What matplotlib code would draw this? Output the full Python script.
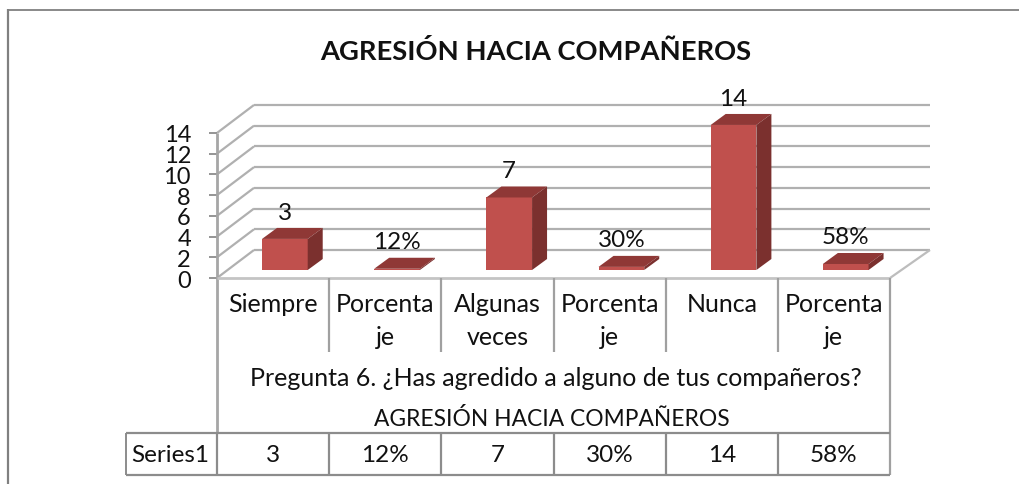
import matplotlib
matplotlib.use("Agg")
import matplotlib.pyplot as plt
from matplotlib.patches import Polygon

plt.rcParams['font.family'] = ['Lato', 'DejaVu Sans']

title = "AGRESIÓN HACIA COMPAÑEROS"
categories = ["Siempre", "Porcenta\nje", "Algunas\nveces", "Porcenta\nje", "Nunca", "Porcenta\nje"]
values = [3, 0.12, 7, 0.30, 14, 0.58]
data_labels = ["3", "12%", "7", "30%", "14", "58%"]
y_ticks = [0, 2, 4, 6, 8, 10, 12, 14]
group_label = "Pregunta 6. ¿Has agredido a alguno de tus compañeros?"
outer_label = "AGRESIÓN HACIA COMPAÑEROS"
series_name = "Series1"

W, H = 1020, 484
X0, CAT = 217.0, 112.17      # pixel of category 0, pixels per category
Y0, UNIT = 270.0, 10.36      # pixel of bar base, pixels per value unit
px = lambda p: (p - X0) / CAT
py = lambda p: (Y0 - p) / UNIT
GRID = "#b0b0b0"; LINE = "#8c8c8c"; FRAME = "#808080"
FRONT = "#c0504d"; TOP = "#8f3836"; SIDE = "#7b302e"; TXT = "#111111"
FS = 18.0
FS_LABEL = 17.5

fig = plt.figure(figsize=(W / 100, H / 100), dpi=100, facecolor="white")
ax = fig.add_axes([0, 0, 1, 1])
ax.set_xlim(px(0), px(W)); ax.set_ylim(py(H), py(0)); ax.axis("off")

def seg(x1, y1, x2, y2, c=LINE, lw=1.6, z=1):
    ax.plot([x1, x2], [y1, y2], color=c, lw=lw, solid_capstyle="butt", zorder=z)

# outer frame
seg(px(8), py(9.5), px(W), py(9.5), FRAME, 1.3)
seg(px(8), py(9), px(8), py(H), FRAME, 1.6)

ax.text(px(536), py(52), title, ha="center", va="center", fontsize=19.7, fontweight="bold", color=TXT)

# 3D frame geometry
n = len(categories)
ax_base = py(278)            # front floor level
depth_x, depth_y = 37 / CAT, 28 / UNIT
for t in y_ticks:
    yf = ax_base + t
    seg(0, yf, depth_x, yf + depth_y, GRID)
    seg(depth_x, yf + depth_y, n + depth_x * 1.08, yf + depth_y, GRID)
    seg(px(209), yf, 0, yf, LINE, 1.3)
    ax.text(px(191), yf - 3 / UNIT, str(t), ha="right", va="center", fontsize=17, color=TXT)
seg(0, ax_base + y_ticks[-1], 0, py(433), "#a6a6a6", 2.0, 2)
seg(0, ax_base, n, ax_base, "#c4c4c4", 2.0, 2)
seg(n, ax_base, n + depth_x * 1.08, ax_base + depth_y, "#bdbdbd", 1.6)

# bars
bar_w = 45.7 / CAT
bx, by = 15 / CAT, 11 / UNIT
xs = [i + 0.5 + 0.105 for i in range(n)]
ax.bar(xs, values, width=bar_w, color=FRONT, zorder=5)
label_y = [py(220), py(249), py(178), py(247), py(106), py(244)]
for x, v, lab, ly in zip(xs, values, data_labels, label_y):
    l, r = x - bar_w / 2, x + bar_w / 2
    ax.add_patch(Polygon([(l, v), (r, v), (r + bx, v + by), (l + bx, v + by)], fc=TOP, ec="none", zorder=5))
    ax.add_patch(Polygon([(r, 0), (r, v), (r + bx, v + by), (r + bx, by)], fc=SIDE, ec="none", zorder=5))
    ax.text(x, ly, lab, ha="center", va="baseline", fontsize=FS_LABEL, color=TXT, zorder=6)

# data table
y_head_bot, y_row_top, y_row_bot = py(352), py(433), py(475)
for i in range(1, n):
    seg(i, ax_base, i, y_head_bot, "#a0a0a0", 1.6, 2)
    seg(i, y_row_top, i, y_row_bot, LINE, 1.6, 2)
seg(n, ax_base, n, y_row_bot, "#a0a0a0", 1.6, 2)
seg(0, y_row_top, 0, y_row_bot, LINE, 1.6, 2)
seg(px(126), y_row_top, n, y_row_top, LINE, 1.6, 2)
seg(px(126), y_row_bot, n, y_row_bot, LINE, 1.6, 2)
seg(px(126), y_row_top, px(126), y_row_bot, LINE, 1.4, 2)
for i, (c, lab) in enumerate(zip(categories, data_labels)):
    for j, part in enumerate(c.split("\n")):
        ax.text(i + 0.5, py(312 + j * 33), part, ha="center", va="baseline", fontsize=FS, color=TXT)
    ax.text(i + 0.5, py(462), lab, ha="center", va="baseline", fontsize=FS_LABEL, color=TXT)
ax.text(px(556), py(386), group_label, ha="center", va="baseline", fontsize=FS, color=TXT)
ax.text(px(552), py(426), outer_label, ha="center", va="baseline", fontsize=16.4, color=TXT)
ax.text(px(131), py(462), series_name, ha="left", va="baseline", fontsize=FS_LABEL, color=TXT)

fig.savefig("out.png", dpi=100, facecolor="white")
